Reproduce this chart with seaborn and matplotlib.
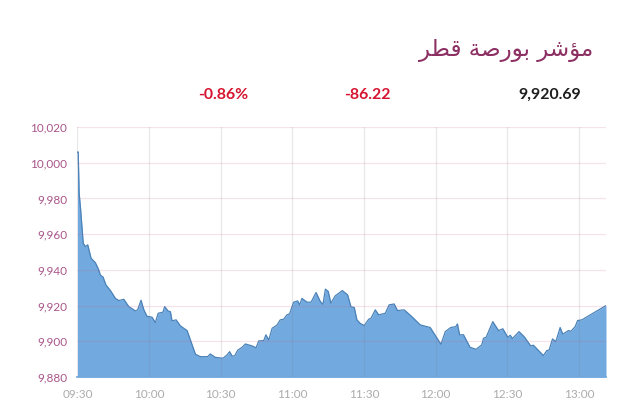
#!/usr/bin/env python3
# -*- coding: utf-8 -*-
"""Qatar exchange index, intraday area chart."""

import pandas as pd
import matplotlib.pyplot as plt
import seaborn as sns

# minutes after 09:30
MINUTES = [
    0, 0.3, 0.7, 1.3, 2.4, 3.3, 4.3, 5.7, 7.5, 8.9, 9.6, 10.7, 11.9, 13.8, 15.9,
    17.3, 19.4, 21.5, 24.3, 25.2, 26.6, 27.8, 29.1, 31.2, 32.6, 33.8, 35.8, 36.5,
    37.9, 38.9, 39.6, 41.3, 43.1, 45.9, 47.3, 49.4, 51.5, 54.5, 55.6, 57.7, 60.9,
    62.6, 63.7, 64.7, 65.8, 67.1, 68.9, 70.3, 73.1, 74.8, 75.9, 78, 78.9, 80.1,
    81.5, 83.5, 84.9, 86.3, 87.7, 88.8, 90.5, 92.2, 93, 94, 96.1, 97.8, 99.9,
    101.7, 102.8, 103.8, 105, 106.1, 107.9, 110.9, 113.1, 114.5, 115.9, 117,
    118.4, 120.1, 121.9, 122.9, 124.7, 126.1, 128.9, 130.5, 132.6, 134, 136.8,
    140, 143.5, 147.7, 152.2, 154, 156.3, 158.4, 159.1, 160, 161.6, 164.4, 166.9,
    169.3, 170, 171.1, 173.9, 176.3, 178.1, 180.2, 181.2, 182.1, 184.9, 187,
    189.8, 190.9, 195.1, 196.5, 197.5, 198.9, 200.3, 202.1, 203.2, 205.6, 206.6,
    208.4, 209.4, 211.2, 221.3,
]
INDEX = [
    10006, 10006, 9983, 9974, 9955, 9953, 9954, 9946.5, 9944, 9940, 9937, 9936,
    9931.6, 9928.4, 9924, 9922.8, 9923.5, 9919.4, 9917, 9917.6, 9923, 9917.6, 9914,
    9913.5, 9910.5, 9915.7, 9916.3, 9919.4, 9917, 9916.6, 9911.4, 9912, 9908.6,
    9906, 9900.7, 9892.7, 9891.4, 9891.4, 9892.9, 9891, 9890.5, 9892.3, 9894.2,
    9891.8, 9891.8, 9895, 9896.6, 9898.5, 9897.4, 9896.4, 9900.2, 9900.4, 9903.6,
    9900.7, 9907.3, 9909, 9912, 9912.3, 9914.8, 9915.3, 9921.9, 9922.6, 9920.4,
    9924, 9921.9, 9921.9, 9927.3, 9922.2, 9920.7, 9929.2, 9927.9, 9921.3, 9925.4,
    9928.4, 9926, 9919.4, 9918.9, 9912, 9910, 9908.8, 9912.3, 9912.9, 9917.6,
    9914.8, 9915.7, 9920.4, 9920.9, 9917.2, 9917.6, 9913.8, 9909.2, 9907.7, 9898.3,
    9905.4, 9907.7, 9908.2, 9909.7, 9903.6, 9903.7, 9896.6, 9895.5, 9898, 9901.7,
    9902.2, 9911, 9906, 9907, 9902.2, 9903.4, 9901.5, 9905.4, 9902.6, 9897.4,
    9897.8, 9892, 9894.8, 9895.1, 9901.3, 9899.8, 9907.7, 9904, 9906, 9905.6,
    9908.2, 9911.6, 9912, 9920,
]
X_TICKS = [0, 30, 60, 90, 120, 150, 180, 210]
X_LABELS = ["09:30", "10:00", "10:30", "11:00", "11:30", "12:00", "12:30", "13:00"]
Y_TICKS = [9880, 9900, 9920, 9940, 9960, 9980, 10000, 10020]

# matplotlib does no Arabic shaping, so: presentation forms in visual order
TITLE = "\ufeae\ufec4\ufed7 \ufe94\ufebb\ufead\ufeee\ufe91 \ufeae\ufeb7\ufe86\ufee3"
LAST_VALUE = "9,920.69"
CHANGE = "-86.22"
CHANGE_PCT = "-0.86%"


def main():
    sns.set_theme(style="white")
    plt.rcParams["font.family"] = ["Lato", "DejaVu Sans"]

    df = pd.DataFrame({"minute": MINUTES, "index": INDEX})

    fig = plt.figure(figsize=(6.4, 4.17), dpi=100, facecolor="white")
    ax = fig.add_axes([77 / 640, 40 / 417, 529 / 640, 250 / 417])

    ax.fill_between(df["minute"], df["index"], 9880, color="#72AADF", lw=0, zorder=1)
    sns.lineplot(data=df, x="minute", y="index", ax=ax, color="#4A82B8",
                 linewidth=0.9, zorder=2)

    ax.set_xlim(-0.2, 221.3)
    ax.set_ylim(9880, 10020)
    ax.set_xlabel("")
    ax.set_ylabel("")
    ax.set_xticks(X_TICKS, X_LABELS)
    ax.set_yticks(Y_TICKS, [f"{v:,}" for v in Y_TICKS])
    ax.tick_params(axis="x", labelsize=8.5, labelcolor="#ABABAB", length=0, pad=9)
    ax.tick_params(axis="y", labelsize=8.5, labelcolor="#A8558A", length=0, pad=7)

    # grid shows through the area
    ax.set_axisbelow(False)
    ax.grid(True, axis="x", color="#6E6E8C", alpha=0.16, lw=0.9)
    ax.grid(True, axis="y", color="#C9668F", alpha=0.18, lw=0.9)
    for side in ["top", "right", "left"]:
        ax.spines[side].set_visible(False)
    ax.spines["bottom"].set_color("#72AADF")

    fig.text(593 / 640, 1 - 51 / 417, TITLE, ha="right", va="center",
             fontsize=16.6, color="#8C2F62", family=["DejaVu Sans"])
    for x, label, colour in [(223, CHANGE_PCT, "#D6142F"),
                             (367, CHANGE, "#D6142F"),
                             (550, LAST_VALUE, "#1E1E1E")]:
        fig.text(x / 640, 1 - 95 / 417, label, ha="center", va="center",
                 fontsize=11.4, fontweight="bold", color=colour)

    fig.savefig("out.png", dpi=100)
    plt.close(fig)


if __name__ == "__main__":
    main()
